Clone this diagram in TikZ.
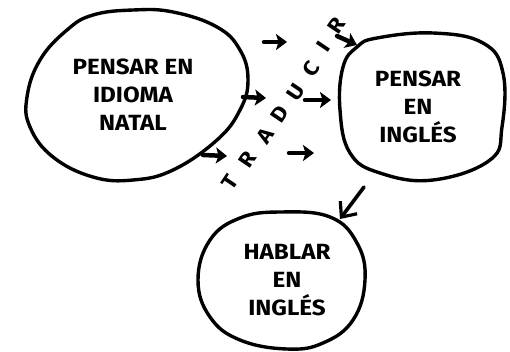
\documentclass[tikz,border=0pt]{standalone}
\usepackage{fontspec}
\newfontfamily\comic{Fira Sans}[FakeStretch=1.1]
\usetikzlibrary{arrows.meta}
\tikzset{
  blob/.style={line width=3.4pt, line join=round},
  lbl/.style={font=\comic\bfseries\fontsize{22}{28}\selectfont, align=center, inner sep=0pt},
  stub/.style={line width=4.5pt, -{Stealth[length=11pt,width=16pt,inset=2.5pt]}, line cap=round},
  bigarrow/.style={line width=3.6pt, -{Straight Barb[length=12pt,width=21pt,line width=3.2pt]}, line cap=round},
  letter/.style={font=\comic\bfseries\fontsize{21}{21}\selectfont, rotate=56, inner sep=0pt}
}
\begin{document}
\begin{tikzpicture}[x=1pt,y=-1pt]
\useasboundingbox (0,0) rectangle (510,351);
% blob 1
\draw[blob] plot[smooth cycle, tension=0.7] coordinates {
 (133,10) (173,12) (217,27) (240,50) (248,80) (240,110) (217,140) (173,170)
 (133,180) (93,177) (53,157) (30,127) (27,97) (40,60) (67,30) (93,15)};
% blob 2
\draw[blob] plot[smooth cycle, tension=0.7] coordinates {
 (377,38) (433,33) (483,43) (503,73) (502,127) (490,160) (433,180) (380,173)
 (350,153) (340,110) (343,67) (357,47)};
% blob 3
\draw[blob] plot[smooth cycle, tension=0.7] coordinates {
 (280,212) (330,217) (357,243) (365,280) (353,320) (323,343) (287,349)
 (240,340) (210,317) (198,280) (210,240) (240,218)};

\node[lbl] (natal) at (133,95) {PENSAR EN\\IDIOMA\\NATAL};
\node[lbl] (ingles) at (418,107) {PENSAR\\EN\\INGLÉS};
\node[lbl] (hablar) at (287,280) {HABLAR\\EN\\INGLÉS};

% TRADUCIR
\foreach \ch/\px/\py [count=\i] in {T/230/182, R/247/160, A/265/136, D/280/114, U/296/92, C/311/69, I/323/47, R/336/26}{
  \node[letter] (tr\i) at (\px,\py) {\ch};
}

% small arrows
\coordinate (a1s) at (264,42); \coordinate (a1e) at (287,42);
\coordinate (a2s) at (337,36); \coordinate (a2e) at (357,45);
\coordinate (a3s) at (243,97); \coordinate (a3e) at (266,98);
\coordinate (a4s) at (305,100); \coordinate (a4e) at (331,100);
\coordinate (a5s) at (203,155); \coordinate (a5e) at (227,156);
\coordinate (a6s) at (289,153); \coordinate (a6e) at (314,153);
\foreach \k in {1,...,6}{ \draw[stub] (a\k s) -- (a\k e); }

% big arrow
\coordinate (bs) at (364,187);
\coordinate (be) at (340,219);
\draw[bigarrow] (bs) -- (be);
\end{tikzpicture}
\end{document}
